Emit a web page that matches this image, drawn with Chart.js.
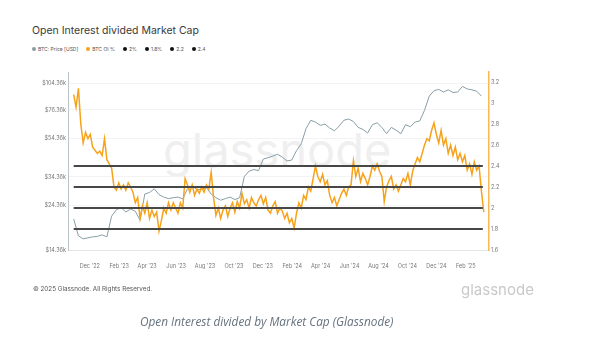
<!DOCTYPE html>
<html>
<head>
<meta charset="utf-8">
<script src="https://cdn.jsdelivr.net/npm/chart.js@4.4.1/dist/chart.umd.min.js"></script>
<style>
    body { margin: 0; width: 600px; height: 341px; background: #fff; position: relative; overflow: hidden; font-family: Inter, 'Noto Sans', sans-serif; }
    #title { position: absolute; left: 32px; top: 24px; font-size: 10.5px; color: #3a3a3a; }
    #legend { position: absolute; left: 32px; top: 46px; font-size: 5px; color: #555; display: flex; align-items: center; }
    .item { display: flex; align-items: center; margin-right: 8px; }
    .dot { width: 4px; height: 4px; border-radius: 50%; margin-right: 2px; }
    #wm { position: absolute; left: 163px; top: 126px; font-size: 47px; line-height: 1; color: #efefef; }
    #chart { position: absolute; left: 0; top: 0; }
    #copy { position: absolute; left: 33px; top: 285px; font-size: 6.3px; color: #555; }
    #logo { position: absolute; left: 461px; top: 280px; font-size: 15px; color: #c9c9c9; }
    #caption { position: absolute; left: 140px; top: 313px; font-family: 'Open Sans', sans-serif; font-style: italic; font-size: 11.8px; color: #66727f; }
</style>
</head>
<body>
<div id="title">Open Interest divided Market Cap</div>
<div id="legend"></div>
<div id="wm">glassnode</div>
<canvas id="chart" width="600" height="341"></canvas>
<div id="copy">© 2025 Glassnode. All Rights Reserved.</div>
<div id="logo">glassnode</div>
<div id="caption">Open Interest divided by Market Cap (Glassnode)</div>

<script>
// dias contados a partir de 1 dez 2022
const startDay = -34;
const oiStep = 5;
const priceStep = 10;

// BTC OI % (eixo direito)
const oiValues = [
    3.08, 2.96, 3.14, 2.80, 2.62, 2.72, 2.66, 2.70, 2.58, 2.55,
    2.52, 2.54, 2.50, 2.66, 2.46, 2.42, 2.38, 2.20, 2.17, 2.24,
    2.18, 2.22, 2.17, 2.24, 2.20, 2.15, 2.05, 2.10, 1.90, 2.02,
    1.95, 2.05, 1.90, 1.98, 1.92, 1.96, 1.78, 1.88, 2.00, 1.95,
    2.05, 1.98, 2.05, 2.00, 1.95, 2.05, 2.00, 2.28, 2.22, 2.15,
    2.22, 2.12, 2.18, 2.14, 2.20, 2.15, 2.22, 2.18, 2.34, 2.10,
    1.93, 2.00, 1.90, 1.98, 2.02, 1.92, 2.00, 2.05, 1.96, 2.06,
    2.00, 2.14, 2.04, 2.08, 2.00, 2.10, 2.05, 2.02, 2.08, 2.12,
    2.04, 2.10, 1.98, 1.95, 2.02, 2.06, 1.95, 2.00, 1.97, 1.90,
    1.95, 1.86, 1.90, 1.81, 1.95, 2.05, 2.00, 2.12, 2.08, 2.20,
    2.16, 2.28, 2.40, 2.30, 2.25, 2.32, 2.22, 2.26, 2.12, 2.05,
    2.10, 2.02, 2.08, 2.14, 2.18, 2.12, 2.20, 2.22, 2.45, 2.30,
    2.38, 2.25, 2.33, 2.28, 2.22, 2.30, 2.40, 2.36, 2.42, 2.35,
    2.30, 2.06, 2.20, 2.26, 2.30, 2.18, 2.22, 2.16, 2.22, 2.28,
    2.25, 2.33, 2.22, 2.35, 2.42, 2.48, 2.44, 2.52, 2.60, 2.66,
    2.64, 2.74, 2.81, 2.70, 2.62, 2.74, 2.60, 2.66, 2.52, 2.60,
    2.50, 2.58, 2.46, 2.52, 2.44, 2.50, 2.36, 2.42, 2.32, 2.44,
    2.36, 2.40, 2.16, 1.96
];

// BTC Price [USD] (eixo esquerdo, log)
const priceValues = [
    20800, 17000, 16400, 16600, 16800, 16900, 17200, 16800, 21500, 23200,
    23800, 22600, 23400, 22800, 20500, 28000, 28500, 29800, 27800, 27000,
    26500, 26800, 27000, 26400, 29800, 30800, 29500, 29700, 30200, 28000,
    26800, 26000, 26500, 27000, 26200, 26800, 34500, 36800, 37500, 37000,
    42500, 43200, 44000, 45000, 43500, 41500, 42000, 47000, 51000, 61000,
    67500, 66000, 63500, 64500, 61500, 59500, 63000, 67500, 68500, 66500,
    62000, 60500, 58000, 64000, 65500, 62000, 57500, 62000, 60000, 57500,
    64000, 62500, 66000, 67000, 76000, 90000, 96000, 97500, 94500, 97000,
    94000, 94500, 101000, 98000, 97000, 95500, 90000
];

// linhas de referência
const refLevels = [2.4, 2.2, 2.0, 1.8];
const refNames = ['2%', '1.8%', '2.2', '2.4'];

// eixos
const priceTicks = [14360, 24360, 34360, 54360, 76360, 104360];
const oiTicks = [1.6, 1.8, 2.0, 2.2, 2.4, 2.6, 2.8, 3.0, 3.2];
const xTickDates = ['2022-12-01', '2023-02-01', '2023-04-01', '2023-06-01', '2023-08-01', '2023-10-01', '2023-12-01',
    '2024-02-01', '2024-04-01', '2024-06-01', '2024-08-01', '2024-10-01', '2024-12-01', '2025-02-01'];
const xTickLabels = ["Dec '22", "Feb '23", "Apr '23", "Jun '23", "Aug '23", "Oct '23", "Dec '23",
    "Feb '24", "Apr '24", "Jun '24", "Aug '24", "Oct '24", "Dec '24", "Feb '25"];

const orange = '#f7a21b';
const slate = '#889ea7';

const base = Date.UTC(2022, 11, 1);
const xTickDays = xTickDates.map(d => Math.round((Date.parse(d) - base) / 86400000));

const oiData = oiValues.map((v, i) => ({ x: startDay + i * oiStep, y: v }));
const priceData = priceValues.map((v, i) => ({ x: startDay + i * priceStep, y: v }));
const firstDay = startDay;
const lastDay = startDay + (oiValues.length - 1) * oiStep;

// legenda em html
const legend = document.getElementById('legend');
[['BTC: Price [USD]', slate], ['BTC OI %', orange]].concat(refNames.map(n => [n, '#111']))
    .forEach(([name, color]) => {
        const el = document.createElement('div');
        el.className = 'item';
        el.innerHTML = '<span class="dot" style="background:' + color + '"></span>' + name;
        legend.appendChild(el);
    });

const refSets = refLevels.map(lv => ({
    label: 'ref ' + lv,
    data: [{ x: firstDay, y: lv }, { x: lastDay - 2, y: lv }],
    yAxisID: 'y1',
    borderColor: '#474747',
    borderWidth: 1.8,
    pointRadius: 0,
    order: 0
}));

const ctx = document.getElementById('chart').getContext('2d');
new Chart(ctx, {
    type: 'line',
    data: {
        datasets: refSets.concat([
            {
                label: 'BTC OI %',
                data: oiData,
                yAxisID: 'y1',
                borderColor: orange,
                borderWidth: 1.5,
                pointRadius: 0,
                order: 1
            },
            {
                label: 'BTC: Price [USD]',
                data: priceData,
                yAxisID: 'y',
                borderColor: slate,
                borderWidth: 1,
                pointRadius: 0,
                order: 2
            }
        ])
    },
    options: {
        responsive: false,
        animation: false,
        layout: { padding: { left: 28, right: 81, top: 72, bottom: 71 } },
        plugins: { legend: { display: false }, tooltip: { enabled: false } },
        scales: {
            x: {
                type: 'linear',
                min: -46,
                max: 842,
                afterFit: s => { s.height = 20; },
                afterBuildTicks: s => { s.ticks = xTickDays.map(v => ({ value: v })); },
                ticks: {
                    padding: 5,
                    maxRotation: 0,
                    autoSkip: false,
                    color: '#777',
                    font: { size: 5.5, family: 'Inter' },
                    callback: v => xTickLabels[xTickDays.indexOf(v)]
                },
                grid: { display: false },
                border: { display: true, color: '#e6e6e6', width: 1 }
            },
            y: {
                type: 'logarithmic',
                position: 'left',
                min: 14360,
                max: 120000,
                afterFit: s => { s.width = 40; },
                afterBuildTicks: s => { s.ticks = priceTicks.map(v => ({ value: v })); },
                ticks: {
                    padding: 2,
                    color: '#777',
                    font: { size: 5.5, family: 'Inter' },
                    callback: v => '$' + (v / 1000).toFixed(2) + 'k'
                },
                grid: { color: '#f3f3f3', drawTicks: false },
                border: { display: true, color: '#b9c4c9', width: 1 }
            },
            y1: {
                type: 'linear',
                position: 'right',
                min: 1.6,
                max: 3.295,
                afterFit: s => { s.width = 30; },
                afterBuildTicks: s => { s.ticks = oiTicks.map(v => ({ value: v })); },
                ticks: {
                    padding: 2,
                    color: '#777',
                    font: { size: 5.5, family: 'Inter' },
                    callback: v => String(+v.toFixed(1))
                },
                grid: { display: false, drawTicks: false },
                border: { display: true, color: '#f7b955', width: 1.5 }
            }
        }
    }
});
</script>
</body>
</html>
